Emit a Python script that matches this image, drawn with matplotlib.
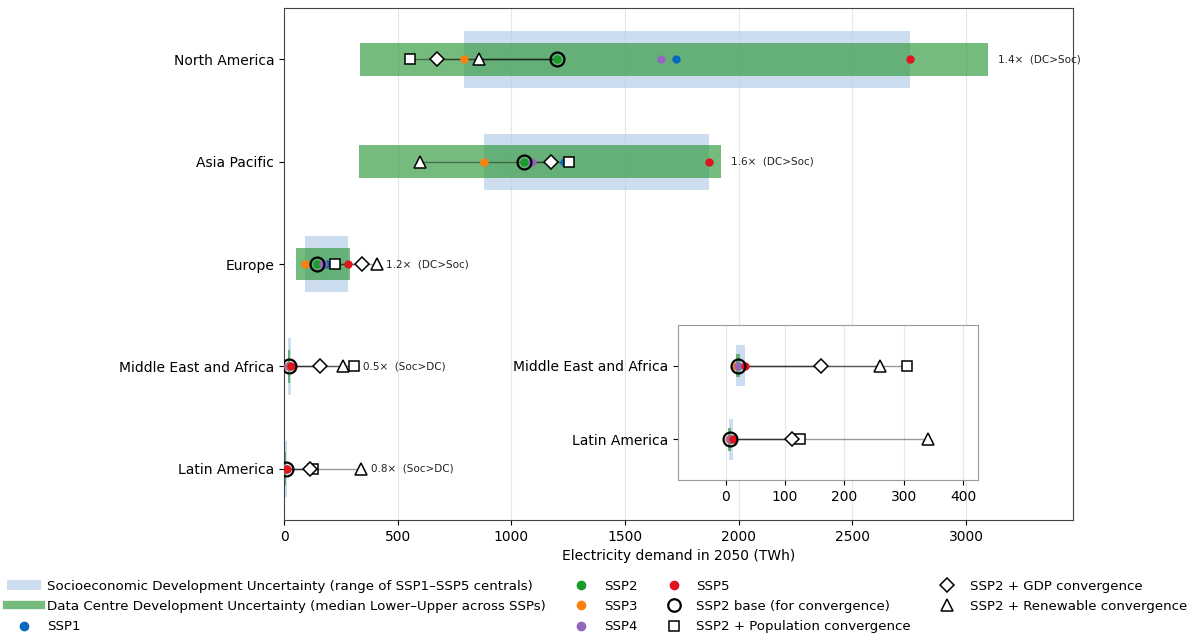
import numpy as np
import matplotlib
matplotlib.use("Agg")
import matplotlib.pyplot as plt
from matplotlib.patches import Patch
from matplotlib.lines import Line2D

# 2050 electricity demand by region (TWh)
regions = ["North America", "Asia Pacific", "Europe", "Middle East and Africa", "Latin America"]
ssp1 = [1724, 1231, 188, 19, 8]
ssp2 = [1200, 1055, 144, 21, 7]
ssp3 = [792, 880, 92, 17, 5.5]
ssp4 = [1658, 1093, 170, 20, 7.5]
ssp5 = [2753, 1869, 283, 32, 12]
dc_low = [334, 330, 53, 17, 4.5]
dc_high = [3096, 1922, 290, 25, 9.5]
pop_conv = [554, 1253, 224, 306, 126]
gdp_conv = [673, 1174, 341, 160, 112]
ren_conv = [858, 598, 407, 260, 340]

inset_regions = ["Middle East and Africa", "Latin America"]

ssp_series = [("SSP1", ssp1, "#0868c0"), ("SSP2", ssp2, "#1a9a2a"),
              ("SSP3", ssp3, "#ff7f0e"), ("SSP4", ssp4, "#9467bd"),
              ("SSP5", ssp5, "#e0141e")]

band_blue = "#b6cfe8"
band_green = "#3a9e48"


def draw_region(ax, i, k):
    centrals = [s[1][k] for s in ssp_series]
    soc_lo, soc_hi = min(centrals), max(centrals)
    ax.barh(i, soc_hi - soc_lo, left=soc_lo, height=0.55, color=band_blue,
            alpha=0.7, zorder=1, lw=0)
    ax.barh(i, dc_high[k] - dc_low[k], left=dc_low[k], height=0.32,
            color=band_green, alpha=0.7, zorder=2, lw=0)
    base = ssp2[k]
    for conv in (pop_conv, gdp_conv, ren_conv):
        ax.plot([base, conv[k]], [i, i], color="black", lw=1, alpha=0.4, zorder=3)
    for name, vals, col in ssp_series:
        ax.plot(vals[k], i, "o", color=col, ms=6, mec="none", zorder=4)
    ax.plot(base, i, "o", mfc="none", mec="black", mew=1.6, ms=10, zorder=5)
    ax.plot(pop_conv[k], i, "s", mfc="white", mec="black", mew=1.1, ms=7, zorder=5)
    ax.plot(gdp_conv[k], i, "D", mfc="white", mec="black", mew=1.1, ms=7.5, zorder=5)
    ax.plot(ren_conv[k], i, "^", mfc="white", mec="black", mew=1.1, ms=8, zorder=5)
    return soc_lo, soc_hi


fig = plt.figure(figsize=(11.96, 6.33), dpi=100)
ax = fig.add_axes([0.2375, 0.1785, 0.6595, 0.8085])

for i, region in enumerate(regions):
    soc_lo, soc_hi = draw_region(ax, i, i)
    ratio = (dc_high[i] - dc_low[i]) / (soc_hi - soc_lo)
    tag = "(DC>Soc)" if ratio > 1 else "(Soc>DC)"
    xmax = max(dc_high[i], soc_hi, pop_conv[i], gdp_conv[i], ren_conv[i])
    ax.annotate(f"{ratio:.1f}\u00d7  {tag}", (xmax, i), xytext=(7, 0),
                textcoords="offset points", va="center", ha="left",
                fontsize=7.5, color="#222222")

ax.set_yticks(range(len(regions)))
ax.set_yticklabels(regions, fontsize=10)
ax.set_ylim(len(regions) - 0.5, -0.5)
ax.set_xlim(0, 3470)
ax.set_xticks(np.arange(0, 3001, 500))
ax.tick_params(axis="x", labelsize=10)
ax.set_xlabel("Electricity demand in 2050 (TWh)", fontsize=10)
ax.grid(axis="x", color="#e6e6e6", lw=0.8)
ax.set_axisbelow(True)
for sp in ax.spines.values():
    sp.set_color("#444444")

# zoomed view of the two smallest regions
ins = fig.add_axes([0.567, 0.2417, 0.2507, 0.2449])
for j, region in enumerate(inset_regions):
    draw_region(ins, j, regions.index(region))
ins.set_yticks(range(len(inset_regions)))
ins.set_yticklabels(inset_regions, fontsize=10)
ins.set_ylim(1.55, -0.55)
ins.set_xlim(-80, 425)
ins.set_xticks(np.arange(0, 401, 100))
ins.tick_params(labelsize=10)
ins.grid(axis="x", color="#e6e6e6", lw=0.8)
ins.set_axisbelow(True)
for sp in ins.spines.values():
    sp.set_color("#999999")

handles = [
    Patch(facecolor=band_blue, alpha=0.7, lw=0,
          label="Socioeconomic Development Uncertainty (range of SSP1\u2013SSP5 centrals)"),
    Line2D([], [], color=band_green, alpha=0.7, lw=6,
           label="Data Centre Development Uncertainty (median Lower\u2013Upper across SSPs)"),
]
for name, vals, col in ssp_series:
    handles.append(Line2D([], [], ls="none", marker="o", color=col, ms=7, mec="none", label=name))
handles += [
    Line2D([], [], ls="none", marker="o", mfc="none", mec="black", mew=1.6, ms=9,
           label="SSP2 base (for convergence)"),
    Line2D([], [], ls="none", marker="s", mfc="white", mec="black", mew=1.1, ms=7,
           label="SSP2 + Population convergence"),
    Line2D([], [], ls="none", marker="D", mfc="white", mec="black", mew=1.1, ms=7.5,
           label="SSP2 + GDP convergence"),
    Line2D([], [], ls="none", marker="^", mfc="white", mec="black", mew=1.1, ms=8,
           label="SSP2 + Renewable convergence"),
]
fig.legend(handles=handles, loc="upper left", bbox_to_anchor=(0.0, 0.095),
           ncol=4, frameon=False, fontsize=9.6, borderaxespad=0.1,
           handlelength=2.6, columnspacing=1.4, handletextpad=0.4,
           labelspacing=0.55)

fig.savefig("out.png", dpi=100)
